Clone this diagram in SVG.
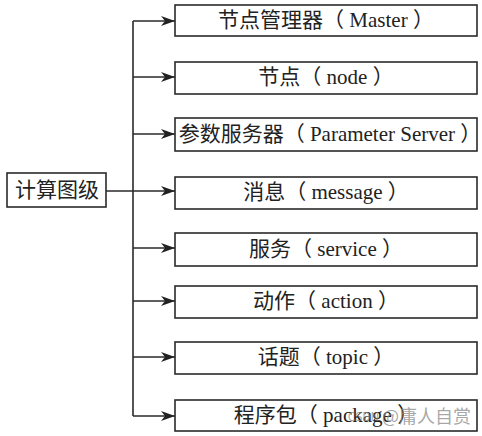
<svg xmlns="http://www.w3.org/2000/svg" width="482" height="436" viewBox="0 0 482 436">
<style>
.box{fill:#fff;stroke:#2a2a2a;stroke-width:1.6}
.t{font-family:"Liberation Serif","Noto Sans CJK SC",serif;font-size:21px;fill:#222;text-anchor:middle;dominant-baseline:central}
.c{fill:none;stroke:#2a2a2a;stroke-width:1.6}
.wm{font-family:"Noto Sans CJK SC",sans-serif;fill:#8a8a8a;fill-opacity:0.75;text-anchor:end;dominant-baseline:central}
</style>
<defs>
<marker id="ah" viewBox="0 0 14 10" refX="14" refY="5" markerWidth="14" markerHeight="10" markerUnits="userSpaceOnUse" orient="auto">
<path d="M0,0 L14,5 L0,10 L4,5 Z" fill="#222"/>
</marker>
</defs>
<rect width="482" height="436" fill="#fff"/>
<g id="connectors">
<path class="c" d="M106,191 H175" marker-end="url(#ah)"/>
<path class="c" d="M133,21 V416"/>
<path class="c" d="M133,21 H175" marker-end="url(#ah)"/>
<path class="c" d="M133,77 H175" marker-end="url(#ah)"/>
<path class="c" d="M133,134 H175" marker-end="url(#ah)"/>
<path class="c" d="M133,248 H175" marker-end="url(#ah)"/>
<path class="c" d="M133,301 H175" marker-end="url(#ah)"/>
<path class="c" d="M133,357 H175" marker-end="url(#ah)"/>
<path class="c" d="M133,416 H175" marker-end="url(#ah)"/>
</g>
<g id="root"><rect class="box" x="7" y="173" width="99" height="34"/><text class="t" x="57" y="189.5">计算图级</text></g>
<g id="n1"><rect class="box" x="175" y="5" width="302" height="31"/><text class="t" x="326" y="19.5">节点管理器（ Master ）</text></g>
<g id="n2"><rect class="box" x="175" y="62" width="302" height="32"/><text class="t" x="326" y="77">节点（ node ）</text></g>
<g id="n3"><rect class="box" x="175" y="118" width="302" height="33"/><text class="t" x="330" y="133.5" font-size="20.5">参数服务器（ Parameter Server ）</text></g>
<g id="n4"><rect class="box" x="175" y="177" width="302" height="32"/><text class="t" x="326" y="192">消息（ message ）</text></g>
<g id="n5"><rect class="box" x="175" y="233" width="302" height="33"/><text class="t" x="326" y="248.5">服务（ service ）</text></g>
<g id="n6"><rect class="box" x="175" y="286" width="302" height="32"/><text class="t" x="326" y="301">动作（ action ）</text></g>
<g id="n7"><rect class="box" x="175" y="342" width="302" height="32"/><text class="t" x="326" y="357">话题（ topic ）</text></g>
<g id="n8"><rect class="box" x="175" y="400" width="302" height="31"/><text class="t" x="326" y="414.5">程序包（ package ）</text></g>
<text class="wm" x="471" y="415"><tspan font-size="12">CSDN </tspan><tspan font-size="18">@庸人自赏</tspan></text>
</svg>
